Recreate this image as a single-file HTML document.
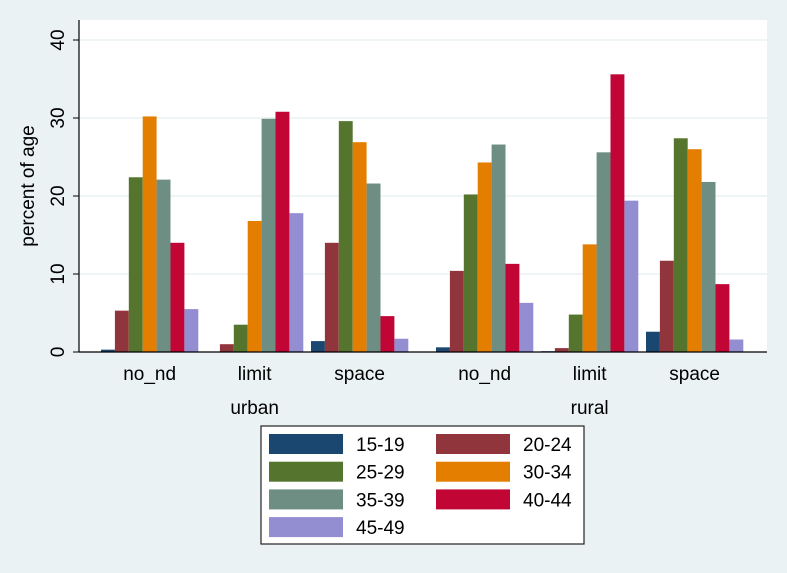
<!DOCTYPE html>
<html><head><meta charset="utf-8"><style>
body{margin:0;background:#eaf2f3;}
svg{display:block;font-family:"Liberation Sans",Arial,sans-serif;}
</style></head><body>
<svg width="787" height="573">
<rect x="0" y="0" width="787" height="573" fill="#eaf2f3"/>
<rect x="79" y="20" width="688" height="332" fill="#ffffff"/>
<g id="grid"></g><g id="bars"></g><g id="axes"></g><g id="legend"></g>
</svg>
<script>
const series = ["15-19","20-24","25-29","30-34","35-39","40-44","45-49"];
const colors = ["#1a476f","#90353b","#55752f","#e37e00","#6e8e84","#c10534","#938dd2"];
const categories = ["no_nd","limit","space","no_nd","limit","space"];
const groups = ["urban","rural"];
const yTicks = [0,10,20,30,40];
const v1519 = [0.3,0.0,1.4,0.6,0.1,2.6];
const v2024 = [5.3,1.0,14.0,10.4,0.5,11.7];
const v2529 = [22.4,3.5,29.6,20.2,4.8,27.4];
const v3034 = [30.2,16.8,26.9,24.3,13.8,26.0];
const v3539 = [22.1,29.9,21.6,26.6,25.6,21.8];
const v4044 = [14.0,30.8,4.6,11.3,35.6,8.7];
const v4549 = [5.5,17.8,1.7,6.3,19.4,1.6];
const values = [v1519,v2024,v2529,v3034,v3539,v4044,v4549];

const NS="http://www.w3.org/2000/svg";
function mk(tag,attrs,parent,text){const e=document.createElementNS(NS,tag);for(const k in attrs)e.setAttribute(k,attrs[k]);if(text!==undefined)e.textContent=text;parent.appendChild(e);return e;}
const y0=352,yTop=40,yMax=40;
function yScale(v){return y0-(v/yMax)*(y0-yTop);}
const barW=13.9;
function groupStart(i){const g=Math.floor(i/3),k=i%3;return 101+g*335+k*105;}

const grid=document.getElementById('grid'),bars=document.getElementById('bars'),axes=document.getElementById('axes'),leg=document.getElementById('legend');
yTicks.forEach(t=>{
  if(t>0){const l=mk('line',{x1:80,x2:767,y1:yScale(t),y2:yScale(t),stroke:'#eaf2f3','stroke-width':1.5},grid);
  
  }
  const tk=mk('line',{x1:73,x2:79,y1:yScale(t),y2:yScale(t),stroke:'#000','stroke-width':1},axes);
  
  
  const yy=yScale(t);
  const tx=mk('text',{x:0,y:0,transform:`translate(64,${yy}) rotate(-90)`,'text-anchor':'middle','font-size':19,fill:'#000'},axes,String(t));
  
  
});
values.forEach((arr,s)=>{
  arr.forEach((v,i)=>{
    const x=groupStart(i)+s*barW;
    const r=mk('rect',{x:x,y:yScale(v),width:barW,height:y0-yScale(v),fill:colors[s]},bars);
    
    
  });
});
const ax=mk('line',{x1:79,x2:79,y1:20,y2:352,stroke:'#000','stroke-width':1.2},axes);


const bx=mk('line',{x1:79,x2:767,y1:352,y2:352,stroke:'#000','stroke-width':1.2},axes);


categories.forEach((c,i)=>{
  const t=mk('text',{x:groupStart(i)+barW*3.5,y:380,'text-anchor':'middle','font-size':19},axes,c);
  
  
});
groups.forEach((g,j)=>{
  const t=mk('text',{x:groupStart(j*3+1)+barW*3.5,y:414,'text-anchor':'middle','font-size':19},axes,g);
  
  
});
const yt=mk('text',{x:0,y:0,transform:'translate(34,186) rotate(-90)','text-anchor':'middle','font-size':19},axes,'percent of age');



const lb=mk('rect',{x:261,y:426,width:323,height:118,fill:'#fff',stroke:'#222','stroke-width':1.2},leg);


series.forEach((s,i)=>{
  const col=i%2,row=Math.floor(i/2);
  const x=269+col*167,y=434+row*27.7;
  const sw=mk('rect',{x:x,y:y,width:74,height:20,fill:colors[i]},leg);
  
  
  const t=mk('text',{x:x+87,y:y+17,'font-size':19},leg,s);
  
  
});
</script>
</body></html>
